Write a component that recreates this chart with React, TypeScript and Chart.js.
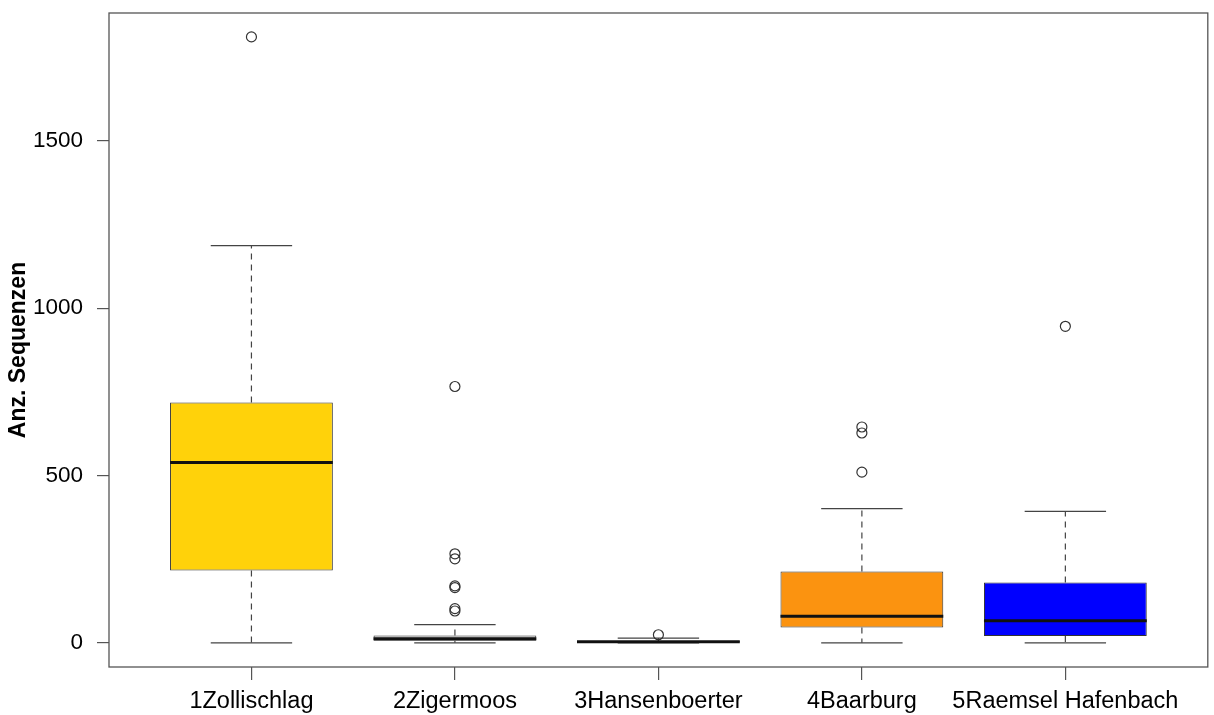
import React, { useEffect, useRef } from "react";
import { Chart, registerables } from "chart.js";

Chart.register(...registerables);

const categories = ["1Zollischlag", "2Zigermoos", "3Hansenboerter", "4Baarburg", "5Raemsel Hafenbach"];
const lowerWhisker = [0, 0, 0, 0, 0];
const q1 = [216, 6, 1, 46, 20];
const median = [539, 12, 3, 79, 66];
const q3 = [718, 22, 5, 213, 180];
const upperWhisker = [1187, 54, 14, 401, 393];
const outliers1 = [1811];
const outliers2 = [766, 266, 251, 170, 165, 102, 95];
const outliers3 = [24];
const outliers4 = [645, 627, 510];
const outliers5 = [946];
const boxColors = ["#FFD20A", "#D3D3D3", "#8C8C8C", "#FB9310", "#0000FF"];
const yTicks = [0, 500, 1000, 1500];
const yTitle = "Anz. Sequenzen";

const allOutliers = [outliers1, outliers2, outliers3, outliers4, outliers5];

const boxPlugin = {
  id: "boxExtras",
  beforeDatasetsDraw(chart: any) {
    const { ctx, scales } = chart;
    const xs = scales.x;
    const ys = scales.y;
    const meta = chart.getDatasetMeta(0);
    ctx.save();
    ctx.strokeStyle = "#444";
    ctx.lineWidth = 1.2;
    categories.forEach((_, i) => {
      const x = xs.getPixelForValue(i + 1);
      const w = meta.data[i] ? meta.data[i].width : 160;
      const capHalf = w / 4;
      const yLo = ys.getPixelForValue(lowerWhisker[i]);
      const yQ1 = ys.getPixelForValue(q1[i]);
      const yQ3 = ys.getPixelForValue(q3[i]);
      const yHi = ys.getPixelForValue(upperWhisker[i]);
      ctx.setLineDash([6, 5]);
      ctx.beginPath();
      ctx.moveTo(x, yQ3);
      ctx.lineTo(x, yHi);
      ctx.moveTo(x, yQ1);
      ctx.lineTo(x, yLo);
      ctx.stroke();
      ctx.setLineDash([]);
      ctx.beginPath();
      ctx.moveTo(x - capHalf, yHi);
      ctx.lineTo(x + capHalf, yHi);
      ctx.moveTo(x - capHalf, yLo);
      ctx.lineTo(x + capHalf, yLo);
      ctx.stroke();
    });
    ctx.restore();
  },
  afterDatasetsDraw(chart: any) {
    const { ctx, scales, chartArea } = chart;
    const xs = scales.x;
    const ys = scales.y;
    const meta = chart.getDatasetMeta(0);
    ctx.save();
    ctx.strokeStyle = "#111";
    ctx.lineWidth = 3;
    categories.forEach((_, i) => {
      const x = xs.getPixelForValue(i + 1);
      const w = meta.data[i] ? meta.data[i].width : 160;
      const y = ys.getPixelForValue(median[i]);
      ctx.beginPath();
      ctx.moveTo(x - w / 2, y);
      ctx.lineTo(x + w / 2, y);
      ctx.stroke();
    });
    ctx.strokeStyle = "#555";
    ctx.lineWidth = 1.3;
    ctx.strokeRect(chartArea.left, chartArea.top, chartArea.right - chartArea.left, chartArea.bottom - chartArea.top);
    ctx.restore();
  },
  afterDraw(chart: any) {
    const { ctx, chartArea } = chart;
    ctx.save();
    ctx.translate(19, (chartArea.top + chartArea.bottom) / 2 + 10);
    ctx.rotate(-Math.PI / 2);
    ctx.fillStyle = "#000";
    ctx.font = "bold 23px 'Liberation Sans'";
    ctx.textAlign = "center";
    ctx.textBaseline = "middle";
    ctx.fillText(yTitle, 0, 0);
    ctx.restore();
  },
};

export default function App() {
  const ref = useRef<HTMLCanvasElement | null>(null);
  useEffect(() => {
    document.body.style.margin = "0";
    if (!ref.current) return;
    const outlierPoints: { x: number; y: number }[] = [];
    allOutliers.forEach((arr, i) => arr.forEach((v) => outlierPoints.push({ x: i + 1, y: v })));
    const chart = new Chart(ref.current, {
      type: "bar",
      data: {
        datasets: [
          {
            type: "bar",
            data: categories.map((_, i) => ({ x: i + 1, y: [q1[i], q3[i]] })) as any,
            backgroundColor: boxColors,
            borderColor: "#333",
            borderWidth: 1,
            borderSkipped: false,
            barPercentage: 0.8,
            categoryPercentage: 1,
          } as any,
          {
            type: "scatter",
            data: outlierPoints as any,
            pointStyle: "circle",
            pointRadius: 5,
            pointBackgroundColor: "rgba(0,0,0,0)",
            pointBorderColor: "#333",
            pointBorderWidth: 1.2,
          } as any,
        ],
      },
      options: {
        animation: false,
        responsive: false,
        devicePixelRatio: 1,
        layout: { padding: { left: 0, right: 5, top: 0, bottom: 0 } },
        plugins: { legend: { display: false }, tooltip: { enabled: false } },
        scales: {
          x: {
            type: "linear",
            min: 0.3,
            max: 5.7,
            offset: false,
            afterBuildTicks: (scale: any) => {
              scale.ticks = categories.map((_, i) => ({ value: i + 1 }));
            },
            afterFit: (scale: any) => {
              scale.height = 48;
            },
            ticks: {
              autoSkip: false,
              maxRotation: 0,
              minRotation: 0,
              padding: 7,
              color: "#000",
              font: { family: "Liberation Sans", size: 23.5 },
              callback: (v: any) => categories[Math.round(Number(v)) - 1] ?? "",
            },
            grid: { display: true, offset: false, drawOnChartArea: false, drawTicks: true, tickLength: 13, color: "#555", lineWidth: 1.2 },
            border: { display: false },
          },
          y: {
            type: "linear",
            min: -72.4,
            max: 1882.4,
            afterBuildTicks: (scale: any) => {
              scale.ticks = yTicks.map((v) => ({ value: v }));
            },
            afterFit: (scale: any) => {
              scale.width = 109;
              scale.paddingTop = 13;
              scale.paddingBottom = 0;
            },
            ticks: {
              padding: 14,
              color: "#000",
              font: { family: "Liberation Sans", size: 22.5 },
              callback: (v: any) => String(v),
            },
            grid: { display: true, drawOnChartArea: false, drawTicks: true, tickLength: 12, color: "#555", lineWidth: 1.2 },
            border: { display: false },
          },
        },
      },
      plugins: [boxPlugin],
    });
    return () => chart.destroy();
  }, []);
  return (
    <div style={{ width: 1214, height: 715 }}>
      <canvas ref={ref} width={1214} height={715} />
    </div>
  );
}
